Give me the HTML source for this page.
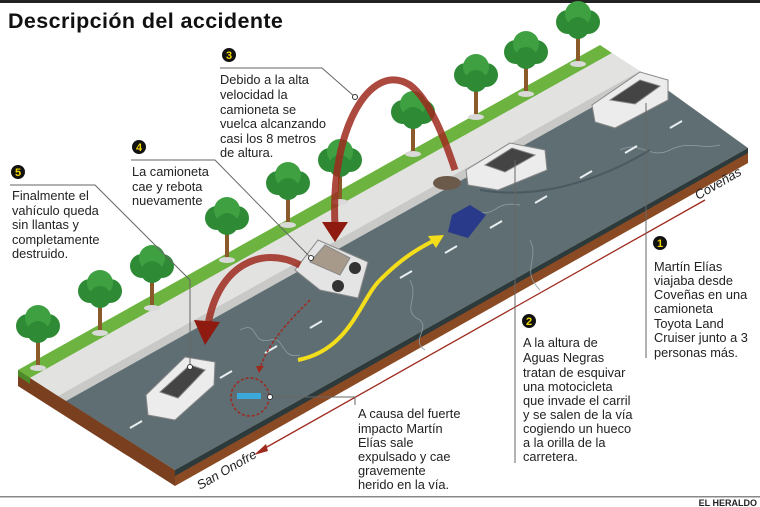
<!DOCTYPE html>
<html><head><meta charset="utf-8"><style>
html,body{margin:0;padding:0;background:#fff}
svg{display:block}
text{font-family:"Liberation Sans",sans-serif}
.t{font-size:12.8px;fill:#222}
.n{font-size:11px;font-weight:bold;fill:#f2d600}
</style></head><body>
<svg width="760" height="507" viewBox="0 0 760 507" xmlns="http://www.w3.org/2000/svg">
<rect x="0" y="0" width="760" height="3" fill="#222"/>
<text x="8" y="28" font-size="21.5" font-weight="bold" fill="#111" letter-spacing="0.4">Descripción del accidente</text>
<polygon points="18,370 175,470 175,486 18,386" fill="#7a3f1e"/>
<polygon points="175,470 748,148 748,163 175,486" fill="#8a4a24"/>
<polygon points="175,470 748,148 748,153 175,476" fill="#2c3a3c"/>
<polygon points="18,370 600,45 612,53 30,378" fill="#6db33f"/>
<polygon points="18,370 30,378 30,384 18,376" fill="#4d8a2a"/>
<polygon points="30,378 612,53 640,71 58,396" fill="#e2e2e0"/>
<polygon points="58,396 640,71 648,76 66,401" fill="#c9c9c7"/>
<polygon points="66,401 648,76 748,148 175,470" fill="#5e6e73"/>
<g stroke="#8e9ea3" stroke-width="0.8" fill="none">
<path d="M240,330 C260,320 250,345 270,340 C285,335 280,360 300,355"/>
<path d="M410,280 C420,300 400,310 420,320 C430,330 410,340 425,350"/>
<path d="M470,210 C500,220 490,200 520,205"/>
<path d="M620,150 C640,140 650,160 670,150 C690,140 700,150 720,145"/>
<path d="M530,240 C540,260 520,270 540,290"/>
</g>
<path d="M480,190 C540,200 600,180 650,150" fill="none" stroke="#4a5a60" stroke-width="2"/>
<g stroke="#e8eef0" stroke-width="2">
<line x1="130" y1="428" x2="142" y2="421"/><line x1="175" y1="403" x2="187" y2="396"/>
<line x1="220" y1="378" x2="232" y2="371"/><line x1="265" y1="353" x2="277" y2="346"/>
<line x1="310" y1="328" x2="322" y2="321"/><line x1="400" y1="278" x2="412" y2="271"/>
<line x1="445" y1="253" x2="457" y2="246"/><line x1="490" y1="228" x2="502" y2="221"/>
<line x1="535" y1="203" x2="547" y2="196"/><line x1="580" y1="178" x2="592" y2="171"/>
<line x1="625" y1="153" x2="637" y2="146"/><line x1="670" y1="128" x2="682" y2="121"/>
</g>
<defs>
<g id="tr"><rect x="-2" y="0" width="4" height="38" fill="#8a5a2a"/><ellipse cx="0" cy="40" rx="8" ry="3" fill="#d9d9d9"/>
<circle cx="-10" cy="-2" r="12" fill="#2e8a35"/><circle cx="10" cy="-2" r="12" fill="#2e8a35"/><circle cx="0" cy="-10" r="13" fill="#3fa042"/><circle cx="0" cy="4" r="11" fill="#2e8a35"/></g>
</defs>
<use href="#tr" x="38" y="328"/><use href="#tr" x="100" y="293"/><use href="#tr" x="152" y="268"/>
<use href="#tr" x="227" y="220"/><use href="#tr" x="288" y="185"/><use href="#tr" x="340" y="162"/>
<use href="#tr" x="413" y="114"/><use href="#tr" x="476" y="77"/><use href="#tr" x="526" y="54"/><use href="#tr" x="578" y="24"/>
<g stroke="#888" stroke-width="1">
<polygon points="592,105 640,72 668,80 668,100 615,128 595,122" fill="#ececec"/>
<polygon points="610,100 640,80 660,86 635,104" fill="#444"/>
<polygon points="466,170 510,143 545,150 547,170 498,190 468,185" fill="#ececec"/>
<polygon points="485,165 512,148 535,155 505,172" fill="#444"/>
<polygon points="146,395 185,357 215,362 214,385 175,420 148,415" fill="#ececec"/>
<polygon points="160,392 190,365 205,370 178,398" fill="#444"/>
<polygon points="295,270 318,240 368,262 358,298 320,290" fill="#e4e4e4"/>
<polygon points="310,262 325,245 350,258 340,275" fill="#a89a8a"/>
</g>
<circle cx="338" cy="286" r="6" fill="#333"/><circle cx="355" cy="268" r="6" fill="#333"/>
<polygon points="452,215 470,205 486,215 468,238 448,232" fill="#2a3a8a"/>
<ellipse cx="447" cy="183" rx="14" ry="7" fill="#6b5a4a"/>
<path d="M298,360 C350,350 360,300 380,280 C400,260 415,250 435,240" fill="none" stroke="#f4dd1a" stroke-width="4"/>
<polygon points="444,235 428,236 436,248" fill="#f4dd1a"/>
<path d="M335,225 C330,130 370,60 410,85 C430,100 445,140 455,170" fill="none" stroke="#9e2a1e" stroke-width="7" opacity="0.85"/>
<polygon points="322,222 348,222 335,242" fill="#8e1a10"/>
<path d="M300,265 C262,245 218,265 208,325" fill="none" stroke="#9e2a1e" stroke-width="7" opacity="0.85"/>
<polygon points="194,320 220,322 205,345" fill="#8e1a10"/>
<path d="M310,300 C290,320 270,340 260,368" fill="none" stroke="#9e2a1e" stroke-width="1.5" stroke-dasharray="3,2"/>
<polygon points="256,366 264,366 259,373" fill="#9e2a1e"/>
<circle cx="250" cy="397" r="19" fill="none" stroke="#9e2a1e" stroke-width="1.5" stroke-dasharray="3,2"/>
<rect x="237" y="393" width="24" height="6" fill="#3aa8d8"/>
<line x1="258" y1="452" x2="705" y2="200" stroke="#9e2a1e" stroke-width="1.3"/>
<polygon points="254,455 266,444 268,451" fill="#9e2a1e"/>
<text transform="translate(698,200) rotate(-30)" font-size="13" font-style="italic" fill="#222">Coveñas</text>
<text transform="translate(200,490) rotate(-30)" font-size="13" font-style="italic" fill="#222">San Onofre</text>
<g stroke="#666" stroke-width="1" fill="none">
<polyline points="220,68 322,68 355,97"/>
<polyline points="131,160 215,160 311,258"/>
<polyline points="10,185 95,185 190,280 190,367"/>
<line x1="515" y1="160" x2="515" y2="463"/>
<line x1="646" y1="103" x2="646" y2="358"/>
<polyline points="270,397 355,397 355,405"/>
</g>
<circle cx="355" cy="97" r="2.5" fill="#fff" stroke="#333"/>
<circle cx="311" cy="258" r="2.5" fill="#fff" stroke="#333"/>
<circle cx="190" cy="367" r="2.5" fill="#fff" stroke="#333"/>
<circle cx="270" cy="397" r="2.5" fill="#fff" stroke="#333"/>
<circle cx="229" cy="55" r="7" fill="#111"/><text class="n" x="229" y="59" text-anchor="middle">3</text>
<circle cx="139" cy="147" r="7" fill="#111"/><text class="n" x="139" y="151" text-anchor="middle">4</text>
<circle cx="18" cy="172" r="7" fill="#111"/><text class="n" x="18" y="176" text-anchor="middle">5</text>
<circle cx="660" cy="243" r="7" fill="#111"/><text class="n" x="660" y="247" text-anchor="middle">1</text>
<circle cx="529" cy="321" r="7" fill="#111"/><text class="n" x="529" y="325" text-anchor="middle">2</text>
<text class="t"><tspan x="220" y="84">Debido a la alta</tspan><tspan x="220" y="99">velocidad la</tspan><tspan x="220" y="114">camioneta se</tspan><tspan x="220" y="128">vuelca alcanzando</tspan><tspan x="220" y="143">casi los 8 metros</tspan><tspan x="220" y="157">de altura.</tspan></text>
<text class="t"><tspan x="132" y="176">La camioneta</tspan><tspan x="132" y="191">cae y rebota</tspan><tspan x="132" y="205">nuevamente</tspan></text>
<text class="t"><tspan x="12" y="200">Finalmente el</tspan><tspan x="12" y="215">vahículo queda</tspan><tspan x="12" y="229">sin llantas y</tspan><tspan x="12" y="244">completamente</tspan><tspan x="12" y="258">destruido.</tspan></text>
<text class="t"><tspan x="654" y="271">Martín Elías</tspan><tspan x="654" y="285">viajaba desde</tspan><tspan x="654" y="299">Coveñas en una</tspan><tspan x="654" y="313">camioneta</tspan><tspan x="654" y="328">Toyota Land</tspan><tspan x="654" y="342">Cruiser junto a 3</tspan><tspan x="654" y="357">personas más.</tspan></text>
<text class="t"><tspan x="523" y="347">A la altura de</tspan><tspan x="523" y="362">Aguas Negras</tspan><tspan x="523" y="377">tratan de esquivar</tspan><tspan x="523" y="391">una motocicleta</tspan><tspan x="523" y="405">que invade el carril</tspan><tspan x="523" y="419">y se salen de la vía</tspan><tspan x="523" y="433">cogiendo un hueco</tspan><tspan x="523" y="447">a la orilla de la</tspan><tspan x="523" y="461">carretera.</tspan></text>
<text class="t"><tspan x="358" y="418">A causa del fuerte</tspan><tspan x="358" y="433">impacto Martín</tspan><tspan x="358" y="447">Elías sale</tspan><tspan x="358" y="461">expulsado y cae</tspan><tspan x="358" y="475">gravemente</tspan><tspan x="358" y="489">herido en la vía.</tspan></text>
<rect x="0" y="496" width="760" height="1.5" fill="#888"/>
<text x="757" y="506" font-size="9" font-weight="bold" fill="#222" text-anchor="end">EL HERALDO</text>
</svg>
</body></html>
